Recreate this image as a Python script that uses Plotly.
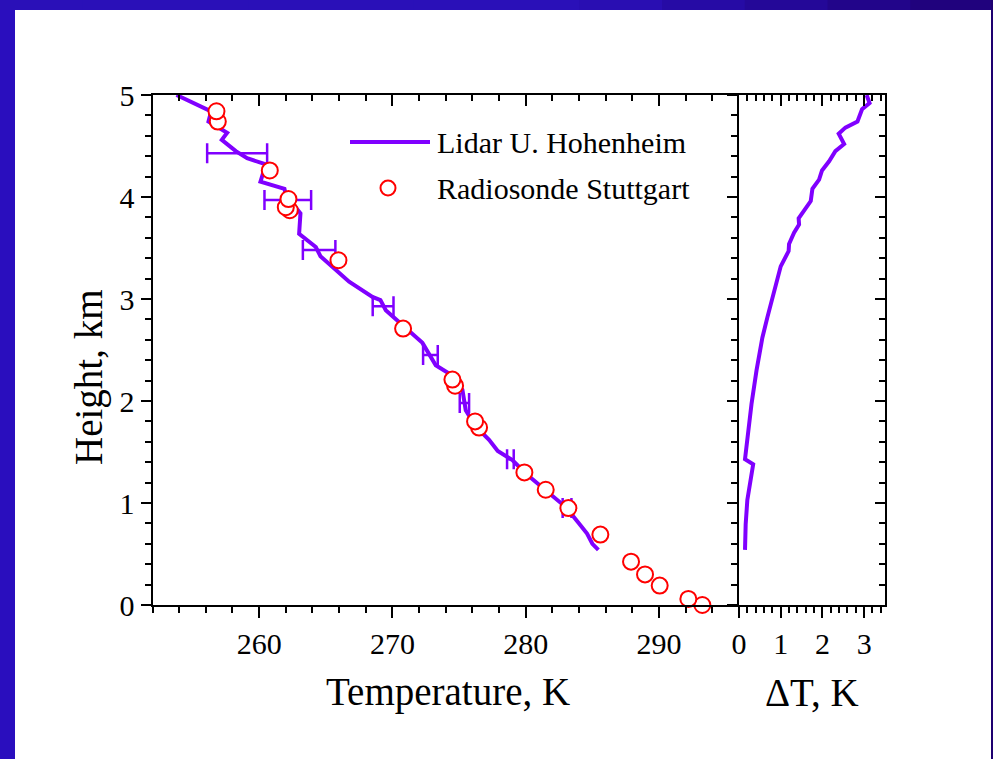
import plotly.graph_objects as go

# ---------------- data ----------------
lidar_T = [253.8, 256.4, 256.2, 257.6, 257.2, 258.25, 259.1, 260.5, 260.1, 261.9,
           262.0, 262.75, 263.1, 263.0, 264.25, 264.6, 265.5, 266.75, 268.5, 269.1,
           269.5, 270.75, 272.25, 273.25, 274.25, 275.25, 275.5, 276.25, 277.25, 277.9,
           279.0, 280.0, 281.5, 283.0, 284.0, 284.6, 285.0, 285.45]
lidar_h = [5.00, 4.84, 4.74, 4.63, 4.56, 4.45, 4.38, 4.32, 4.15, 4.08,
           4.02, 3.89, 3.84, 3.64, 3.51, 3.42, 3.32, 3.17, 3.02, 2.99,
           2.89, 2.75, 2.57, 2.35, 2.27, 2.11, 1.91, 1.75, 1.62, 1.51,
           1.42, 1.29, 1.13, 0.96, 0.80, 0.70, 0.60, 0.54]

err_T = [258.35, 262.15, 264.5, 269.3, 272.85, 275.4, 278.85, 283.1]
err_h = [4.43, 3.97, 3.48, 2.93, 2.45, 1.98, 1.43, 0.95]
err_dT = [2.25, 1.75, 1.22, 0.78, 0.55, 0.35, 0.25, 0.33]

sonde_T = [293.25, 292.2, 290.05, 288.95, 287.9, 285.6, 283.2, 281.5, 279.9, 276.5,
           276.2, 274.7, 274.5, 270.8, 265.95, 262.3, 262.0, 262.2, 260.8, 256.9, 256.8]
sonde_h = [0.00, 0.06, 0.19, 0.30, 0.425, 0.69, 0.95, 1.13, 1.30, 1.74,
           1.80, 2.15, 2.21, 2.71, 3.38, 3.87, 3.90, 3.98, 4.26, 4.74, 4.84]

dT_h = [0.54, 0.79, 1.03, 1.38, 1.43, 1.97, 2.30, 2.62, 2.82, 3.02, 3.16, 3.32,
        3.47, 3.54, 3.65, 3.73, 3.79, 3.90, 3.96, 4.08, 4.17, 4.26, 4.35, 4.45,
        4.52, 4.62, 4.68, 4.74, 4.86, 4.92, 5.00]
dT_v = [0.144, 0.16, 0.20, 0.34, 0.144, 0.30, 0.42, 0.56, 0.68, 0.80, 0.88, 1.00,
        1.19, 1.20, 1.32, 1.44, 1.43, 1.60, 1.72, 1.76, 1.92, 1.99, 2.16, 2.31,
        2.52, 2.39, 2.55, 2.84, 2.95, 3.13, 3.06]

x_ticks_T = [260, 270, 280, 290]
x_ticks_dT = [0, 1, 2, 3]
y_ticks = [0, 1, 2, 3, 4, 5]

legend_labels = ["Lidar U. Hohenheim", "Radiosonde Stuttgart"]
x_title = "Temperature, K"
x2_title = "\u0394T, K"
y_title = "Height, km"

# ---------------- layout geometry ----------------
W, H = 993, 759
def px(x):
    return x / W
def py(y):
    return 1 - y / H

XD1 = [px(152.5), px(739)]
XD2 = [px(739), px(885)]
YD = [py(605), py(95)]

VIOLET = "#8000ff"
RED = "#ff0000"
FONT = "Liberation Serif"

fig = go.Figure()

fig.add_trace(go.Scatter(x=lidar_T, y=lidar_h, mode="lines",
                         line=dict(color=VIOLET, width=4),
                         xaxis="x", yaxis="y", showlegend=False))
fig.add_trace(go.Scatter(x=err_T, y=err_h, mode="markers",
                         marker=dict(size=1, color=VIOLET, opacity=0),
                         error_x=dict(type="data", array=err_dT, color=VIOLET,
                                      thickness=2.5, width=10),
                         xaxis="x", yaxis="y", showlegend=False))
fig.add_trace(go.Scatter(x=sonde_T, y=sonde_h, mode="markers",
                         marker=dict(symbol="circle", size=16, color="white",
                                     line=dict(color=RED, width=2)),
                         xaxis="x", yaxis="y", showlegend=False, cliponaxis=False))
fig.add_trace(go.Scatter(x=dT_v, y=dT_h, mode="lines",
                         line=dict(color=VIOLET, width=4),
                         xaxis="x2", yaxis="y2", showlegend=False))
# empty traces to activate overlay axes
fig.add_trace(go.Scatter(x=[None], y=[None], xaxis="x3", yaxis="y", showlegend=False))
fig.add_trace(go.Scatter(x=[None], y=[None], xaxis="x4", yaxis="y2", showlegend=False))
fig.add_trace(go.Scatter(x=[None], y=[None], xaxis="x2", yaxis="y4", showlegend=False))

tickfont = dict(family=FONT, size=30, color="black")
common = dict(showgrid=False, zeroline=False, showline=True, linecolor="black",
              linewidth=2, tickcolor="black", tickwidth=2, automargin=False,
              tickfont=tickfont)

fig.update_layout(
    template="none",
    width=W, height=H, autosize=False,
    margin=dict(l=0, r=0, t=0, b=0, pad=0),
    paper_bgcolor="white", plot_bgcolor="white",
    showlegend=False,
    xaxis=dict(domain=XD1, anchor="y", range=[252, 296], tickmode="array",
               tickvals=x_ticks_T, ticks="outside", ticklen=11,
               minor=dict(dtick=2, tick0=0, ticks="outside", ticklen=6,
                          tickwidth=2, tickcolor="black"), **common),
    xaxis3=dict(overlaying="x", side="top", anchor="y", range=[252, 296],
                tickmode="array", tickvals=x_ticks_T, ticks="inside", ticklen=11,
                showticklabels=False,
                minor=dict(dtick=2, tick0=0, ticks="inside", ticklen=6,
                           tickwidth=2, tickcolor="black"), **common),
    yaxis=dict(domain=YD, anchor="x", range=[0, 5], tickmode="array",
               tickvals=y_ticks, ticks="outside", ticklen=10,
               minor=dict(dtick=0.2, tick0=0, ticks="outside", ticklen=6,
                          tickwidth=2, tickcolor="black"), **common),
    xaxis2=dict(domain=XD2, anchor="y2", range=[0, 3.5], tickmode="array",
                tickvals=x_ticks_dT, ticks="outside", ticklen=11,
                minor=dict(dtick=0.2, tick0=0, ticks="outside", ticklen=6,
                           tickwidth=2, tickcolor="black"), **common),
    xaxis4=dict(overlaying="x2", side="top", anchor="y2", range=[0, 3.5],
                tickmode="array", tickvals=x_ticks_dT, ticks="inside", ticklen=11,
                showticklabels=False,
                minor=dict(dtick=0.2, tick0=0, ticks="inside", ticklen=6,
                           tickwidth=2, tickcolor="black"), **common),
    yaxis2=dict(domain=YD, anchor="x2", range=[0, 5], tickmode="array",
                tickvals=y_ticks, ticks="outside", ticklen=10, showticklabels=False,
                minor=dict(dtick=0.2, tick0=0, ticks="outside", ticklen=6,
                           tickwidth=2, tickcolor="black"), **common),
    yaxis4=dict(overlaying="y2", side="right", anchor="x2", range=[0, 5],
                tickmode="array", tickvals=y_ticks, ticks="inside", ticklen=10,
                showticklabels=False,
                minor=dict(dtick=0.2, tick0=0, ticks="inside", ticklen=6,
                           tickwidth=2, tickcolor="black"), **common),
)

# ---------------- titles ----------------
title_font = dict(family=FONT, size=39, color="black")
fig.add_annotation(text=y_title, x=px(89), y=py(378), xref="paper", yref="paper",
                   textangle=-90, showarrow=False, font=title_font,
                   xanchor="center", yanchor="middle")
fig.add_annotation(text=x_title, x=px(448), y=py(692), xref="paper", yref="paper",
                   showarrow=False, font=title_font, xanchor="center", yanchor="middle")
fig.add_annotation(text=x2_title, x=px(812), y=py(692), xref="paper", yref="paper",
                   showarrow=False, font=title_font, xanchor="center", yanchor="middle")

# ---------------- legend (drawn manually) ----------------
leg_font = dict(family=FONT, size=30, color="black")
fig.add_shape(type="line", xref="paper", yref="paper", x0=px(350), x1=px(430),
              y0=py(142), y1=py(142), line=dict(color=VIOLET, width=4))
fig.add_shape(type="circle", xref="paper", yref="paper", x0=px(380.5), x1=px(395.5),
              y0=py(195.5), y1=py(180.5), line=dict(color=RED, width=2), fillcolor="white")
fig.add_annotation(text=legend_labels[0], x=px(435), y=py(142), xref="paper", yref="paper",
                   showarrow=False, font=leg_font, xanchor="left", yanchor="middle")
fig.add_annotation(text=legend_labels[1], x=px(435), y=py(188), xref="paper", yref="paper",
                   showarrow=False, font=leg_font, xanchor="left", yanchor="middle")

# ---------------- slide frame ----------------
fig.add_shape(type="rect", xref="paper", yref="paper", x0=0, x1=px(15), y0=0, y1=1,
              line=dict(width=0), fillcolor="#2a0ebe", layer="above")
nseg = 12
c0 = (42, 16, 184)
c1 = (30, 0, 112)
for i in range(nseg):
    xa = i / nseg
    xb = (i + 1) / nseg
    t = max(0.0, (xa - 0.55) / 0.45)
    col = tuple(int(c0[k] + (c1[k] - c0[k]) * t) for k in range(3))
    fig.add_shape(type="rect", xref="paper", yref="paper", x0=xa, x1=xb + 0.002,
                  y0=py(10), y1=1, line=dict(width=0),
                  fillcolor="rgb(%d,%d,%d)" % col, layer="above")
fig.add_shape(type="rect", xref="paper", yref="paper", x0=px(991), x1=1, y0=0, y1=1,
              line=dict(width=0), fillcolor="#1e0070", layer="above")

fig.write_html("out.html", config={"displayModeBar": False},
               post_script="document.body.style.margin='0';document.body.style.overflow='hidden';")
